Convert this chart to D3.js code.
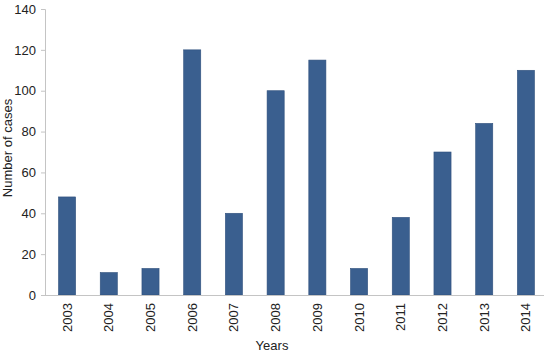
<!DOCTYPE html>
<html>
<head>
<meta charset="utf-8">
<script src="https://cdn.jsdelivr.net/npm/d3@7"></script>
<style>
  body { margin: 0; background: #fff; }
  svg { font-family: "Liberation Sans", Arial, sans-serif; }
</style>
</head>
<body>
<svg id="chart" width="550" height="354"></svg>
<script>
const years = ["2003", "2004", "2005", "2006", "2007", "2008", "2009", "2010", "2011", "2012", "2013", "2014"];
const cases = [48, 11, 13, 120, 40, 100, 115, 13, 38, 70, 84, 110];
const yTicks = [0, 20, 40, 60, 80, 100, 120, 140];

const svg = d3.select("#chart");
const plotLeft = 45, plotRight = 544, plotTop = 9, plotBottom = 295;

const x = d3.scaleBand()
    .domain(years)
    .range([plotLeft + 1, plotRight + 3])
    .paddingInner(0.59)
    .paddingOuter(0.3);

const y = d3.scaleLinear()
    .domain([0, 140])
    .range([plotBottom, plotTop]);

// y axis
const yAxis = svg.append("g")
    .attr("transform", `translate(${plotLeft},0)`)
    .call(d3.axisLeft(y).tickValues(yTicks).tickSize(4).tickPadding(5));
yAxis.select(".domain").attr("stroke", "#c4c4c4");
yAxis.selectAll(".tick line").attr("stroke", "#c4c4c4");
yAxis.selectAll(".tick text")
    .attr("font-size", 13)
    .attr("fill", "#222")
    .attr("font-family", "Liberation Sans, Arial, sans-serif");

// bars
svg.append("g")
    .selectAll("rect")
    .data(years)
    .enter()
    .append("rect")
    .attr("x", (d) => x(d))
    .attr("width", x.bandwidth())
    .attr("y", (d, i) => y(cases[i]))
    .attr("height", (d, i) => y(0) - y(cases[i]))
    .attr("fill", "#3a5f8f")
    .attr("stroke", "#30517d")
    .attr("stroke-width", 0.6);

// x axis
const xAxis = svg.append("g")
    .attr("transform", `translate(0,${plotBottom})`)
    .call(d3.axisBottom(x).tickSize(0).tickPadding(8).tickSizeOuter(0));
xAxis.select(".domain").attr("stroke", "#c4c4c4").attr("d", `M${plotLeft},0.5H${plotRight}`);
xAxis.selectAll(".tick text")
    .attr("font-size", 13)
    .attr("fill", "#222")
    .attr("font-family", "Liberation Sans, Arial, sans-serif")
    .attr("transform", "rotate(-90)")
    .attr("text-anchor", "end")
    .attr("x", -8)
    .attr("y", 0)
    .attr("dy", "0.35em");

// titles
svg.append("text")
    .attr("x", 272)
    .attr("y", 350)
    .attr("text-anchor", "middle")
    .attr("font-size", 13)
    .attr("fill", "#222")
    .text("Years");

svg.append("text")
    .attr("transform", "translate(12,148) rotate(-90)")
    .attr("text-anchor", "middle")
    .attr("font-size", 13)
    .attr("fill", "#222")
    .text("Number of cases");
</script>
</body>
</html>
